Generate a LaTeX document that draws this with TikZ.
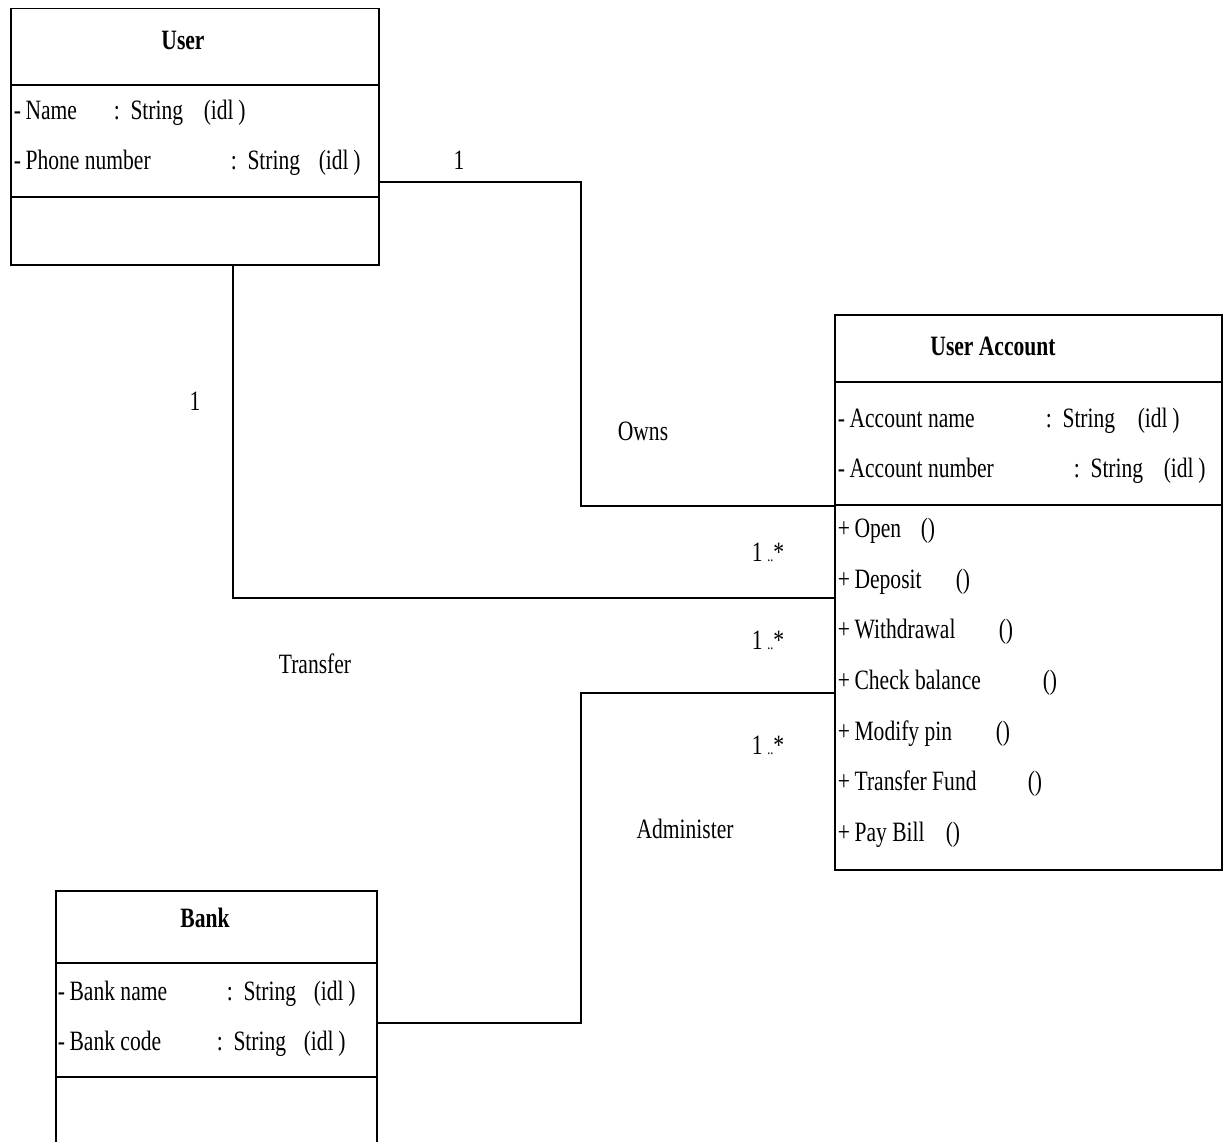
\documentclass[tikz,border=0pt]{standalone}
\usepackage{fontspec}
\setmainfont{Liberation Serif}[FakeStretch=0.77]
\begin{document}
\begin{tikzpicture}[x=1pt,y=-1pt,
  line width=1.5pt,
  classbox/.style={draw, rectangle, anchor=north west, inner sep=0pt},
  txt/.style={anchor=base west, inner sep=0pt, font=\fontsize{28}{30}\selectfont},
  ttl/.style={anchor=base, inner sep=0pt, font=\fontsize{28}{30}\selectfont\bfseries},
  assoc/.style={line width=1.5pt},
  lbl/.style={anchor=base, inner sep=0pt, font=\fontsize{28}{30}\selectfont}]
\useasboundingbox (0,0) rectangle (1226,1142);
\fill[white] (0,0) rectangle (1226,1142);
\clip (0,0) rectangle (1226,1142);

% ---- User ----
\node[classbox, minimum width=368pt, minimum height=256pt] (user) at (10,8) {};
\draw ([yshift=-77pt]user.north west) -- ([yshift=-77pt]user.north east);
\draw ([yshift=-189pt]user.north west) -- ([yshift=-189pt]user.north east);
\node[ttl] (userT) at (183,50) {User};
\node[txt] (u1a) at (13,120) {-\,Name};
\node[txt] (u1b) at (113,120) {:\ \ String};
\node[txt] (u1c) at (203,120) {(idl\,)};
\node[txt] (u2a) at (13,170) {-\,Phone number};
\node[txt] (u2b) at (230,170) {:\ \ String};
\node[txt] (u2c) at (318,170) {(idl\,)};

% ---- User Account ----
\node[classbox, minimum width=387pt, minimum height=555pt] (acct) at (834,314) {};
\draw ([yshift=-68pt]acct.north west) -- ([yshift=-68pt]acct.north east);
\draw ([yshift=-191pt]acct.north west) -- ([yshift=-191pt]acct.north east);
\node[ttl] (acctT) at (993,355) {User Account};
\node[txt] (a1a) at (837,427) {-\,Account name};
\node[txt] (a1b) at (1045,427) {:\ \ String};
\node[txt] (a1c) at (1137,427) {(idl\,)};
\node[txt] (a2a) at (837,477) {-\,Account number};
\node[txt] (a2b) at (1073,477) {:\ \ String};
\node[txt] (a2c) at (1163,477) {(idl\,)};
\node[txt] (m1a) at (837,537) {+\,Open};
\node[txt] (m1b) at (920,537) {()};
\node[txt] (m2a) at (837,588) {+\,Deposit};
\node[txt] (m2b) at (955,588) {()};
\node[txt] (m3a) at (837,638) {+\,Withdrawal};
\node[txt] (m3b) at (998,638) {()};
\node[txt] (m4a) at (837,689) {+\,Check balance};
\node[txt] (m4b) at (1042,689) {()};
\node[txt] (m5a) at (837,740) {+\,Modify pin};
\node[txt] (m5b) at (995,740) {()};
\node[txt] (m6a) at (837,790) {+\,Transfer Fund};
\node[txt] (m6b) at (1027,790) {()};
\node[txt] (m7a) at (837,841) {+\,Pay Bill};
\node[txt] (m7b) at (945,841) {()};

% ---- Bank ----
\node[classbox, minimum width=321pt, minimum height=270pt] (bank) at (55,890) {};
\draw ([yshift=-73pt]bank.north west) -- ([yshift=-73pt]bank.north east);
\draw ([yshift=-187pt]bank.north west) -- ([yshift=-187pt]bank.north east);
\node[ttl] (bankT) at (205,927) {Bank};
\node[txt] (b1a) at (57,1000) {-\,Bank name};
\node[txt] (b1b) at (226,1000) {:\ \ String};
\node[txt] (b1c) at (313,1000) {(idl\,)};
\node[txt] (b2a) at (57,1050) {-\,Bank code};
\node[txt] (b2b) at (216,1050) {:\ \ String};
\node[txt] (b2c) at (303,1050) {(idl\,)};

% ---- connectors ----
\coordinate (c1) at (581,182);
\coordinate (ownsY) at (0,506);
\draw[assoc] (user.east |- c1) -- (c1) |- (acct.west |- ownsY);

\coordinate (c2) at (233,598);
\draw[assoc] (user.south -| c2) -- (c2) -- (acct.west |- c2);

\coordinate (c3) at (581,1023);
\coordinate (c4) at (581,693);
\draw[assoc] (bank.east |- c3) -- (c3) -- (c4) -- (acct.west |- c4);

% ---- labels ----
\node[lbl] (l1) at (459,170) {1};
\node[lbl] (lowns) at (643,440) {Owns};
\node[lbl] (lm1) at (768,561) {1\,{\fontsize{16}{16}\selectfont..}*};
\node[lbl] (l2) at (195,410) {1};
\node[lbl] (ltr) at (315,673) {Transfer};
\node[lbl] (lm2) at (768,649) {1\,{\fontsize{16}{16}\selectfont..}*};
\node[lbl] (lm3) at (768,754) {1\,{\fontsize{16}{16}\selectfont..}*};
\node[lbl] (ladm) at (685,838) {Administer};
\end{tikzpicture}
\end{document}
